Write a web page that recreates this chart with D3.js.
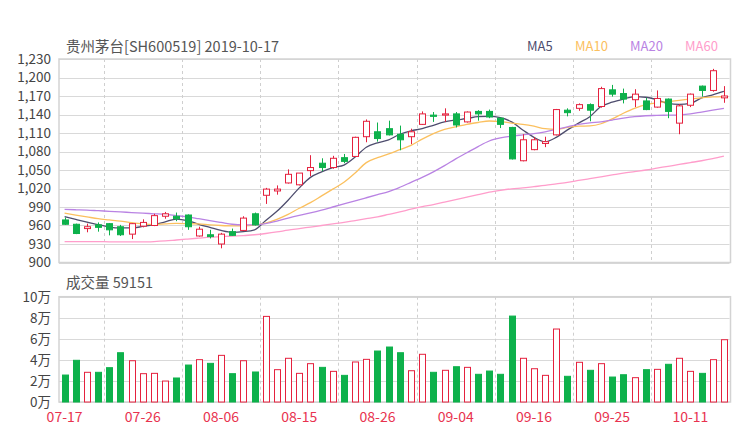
<!DOCTYPE html>
<html><head><meta charset="utf-8">
<script src="https://cdn.jsdelivr.net/npm/d3@7/dist/d3.min.js"></script>
<style>html,body{margin:0;padding:0;background:#fff;}svg{display:block;font-family:"Noto Sans CJK SC","Open Sans",sans-serif;}</style>
</head><body><svg id="c" width="740" height="440"></svg>
<script>
const dates = ["07-17","07-18","07-19","07-22","07-23","07-24","07-25","07-26","07-29","07-30","07-31","08-01","08-02","08-05","08-06","08-07","08-08","08-09","08-12","08-13","08-14","08-15","08-16","08-19","08-20","08-21","08-22","08-23","08-26","08-27","08-28","08-29","08-30","09-02","09-03","09-04","09-05","09-06","09-09","09-10","09-11","09-12","09-16","09-17","09-18","09-19","09-20","09-23","09-24","09-25","09-26","09-27","09-30","10-08","10-09","10-10","10-11","10-14","10-15","10-16"];
const open  = [969,962,955,961,963,958,946,959,960,975,975,977,943,945,930,950,952,979,1009,1016,1029,1026,1049,1061,1054,1070,1072,1104,1112,1117,1108,1104,1124,1139,1139,1141,1128,1145,1145,1134,1119,1065,1083,1093,1107,1147,1150,1156,1153,1180,1174,1164,1162,1152,1165,1126,1155,1186,1179,1167];
const high  = [973,963,963,965,964,961,964,970,979,982,981,978,958,953,948,955,975,981,1021,1025,1051,1045,1074,1069,1073,1076,1104,1132,1127,1130,1122,1117,1145,1144,1150,1144,1145,1147,1148,1135,1120,1108,1103,1104,1149,1150,1158,1158,1185,1188,1182,1181,1167,1179,1166,1157,1174,1187,1214,1186];
const low   = [961,946,949,950,944,943,938,957,959,971,967,953,942,939,923,943,951,960,995,1010,1028,1025,1040,1048,1052,1061,1071,1095,1096,1106,1082,1092,1123,1128,1128,1119,1127,1130,1134,1118,1067,1064,1082,1087,1106,1137,1146,1129,1151,1169,1158,1152,1147,1151,1134,1108,1152,1169,1177,1159];
const close = [962,947,958,957,953,945,963,965,976,979,971,958,954,942,946,944,972,961,1019,1019,1043,1045,1054,1054,1069,1064,1103,1129,1101,1107,1099,1112,1141,1137,1141,1123,1144,1141,1136,1124,1068,1099,1099,1096,1148,1143,1156,1147,1182,1173,1165,1173,1148,1166,1145,1154,1173,1179,1211,1170];
const volume = [25600,39600,28200,28200,32600,46800,39200,26900,27200,19900,22800,35100,40200,36700,44300,26900,39200,28500,81300,30700,41500,27200,36400,32900,29100,25300,38000,40500,48400,52200,46800,29700,45300,28200,30100,33500,32900,26300,29400,26300,81600,41500,31600,25300,69300,24400,37700,30100,36400,23700,25900,23100,30700,31000,35800,41500,29100,27200,40200,59151];
const ma5  = [974.5,970,965.5,961.5,957.5,956,956,958.5,961.5,966,970.5,968,962,957,952,949,950,953,968,983,1001,1021,1038,1047,1054,1058,1071,1087,1094,1099,1108,1113.5,1117,1122.5,1128,1131,1133.5,1136.5,1137,1135,1128,1115,1103,1096,1103,1115,1126,1136.5,1153,1160,1165,1169,1168,1164,1158,1156.5,1158,1167,1172,1177.5];
const ma10 = [980,977,974,971,969,967,964.5,962.5,961.5,962.5,963.5,963,962.5,961,960,959.5,959.5,960.5,964,970,978,988,997,1008,1019,1030,1045,1062,1070,1076,1083,1090,1100,1109,1116,1120,1124,1127,1129.5,1128.5,1126,1124,1121,1117,1116,1119,1121,1121.5,1125,1133,1142,1150,1156,1159,1161,1163,1165,1167,1168.5,1169];
const ma20 = [986,985.5,985,984,983,982,981,980,979,978,976,974,971,968,965,962,961,961,963,967,972,976.5,980.5,985,990,995,1000,1005,1010,1015,1022,1030,1038,1047,1057,1068,1078,1088,1097,1102,1105,1107,1109,1112,1116,1120,1124,1126.5,1128,1131,1134,1136.5,1138,1138.5,1139,1139.5,1141,1144,1147,1150];
const ma60 = [934,934,934,934,933.5,933.5,933.5,933.5,934,935,936.5,938,939.5,941,942,943,943.5,945,947,949.5,952.5,955,957.5,960,962.5,965,968,971,974,978,982,986.5,990.5,994,998,1002,1006,1010,1014,1017,1019.5,1021,1023,1025,1027.5,1030,1033,1036,1039,1042,1045,1047.5,1050,1053,1056,1059,1062,1065,1068.5,1072.5];
const priceTicks = [900,930,960,990,1020,1050,1080,1110,1140,1170,1200,1230];
const volTicks = [0,20000,40000,60000,80000,100000];
const volTickLabels = ["0万","2万","4万","6万","8万","10万"];
const labelDates = ["07-17","07-26","08-06","08-15","08-26","09-04","09-16","09-25","10-11"];
const maNames = ["MA5","MA10","MA20","MA60"];
const maSeries = [ma5, ma10, ma20, ma60];
const title = "贵州茅台[SH600519] 2019-10-17";
const volTitle = "成交量 59151";

const RED = "#e5213e", GREEN = "#0db14b";
const maColors = ["#4e4d6e","#fbc05f","#b983e3","#ff9dcb"];
const L = 59, R = 729.5;
const svg = d3.select("#c");
const idx = d3.range(dates.length);
const x = d3.scaleBand().domain(idx).range([L, R]).padding(0);
const bw = x.bandwidth();
const cx = i => x(i) + bw / 2;
const y = d3.scaleLinear().domain([900, 1230]).range([262.5, 59]);
const yv = d3.scaleLinear().domain([0, 100000]).range([402, 296.7]);

function panel(scale, ticks, fmt) {
  const [b, t] = scale.range();
  const g = svg.append("g");
  g.selectAll("line.h").data(ticks).join("line")
    .attr("x1", L).attr("x2", R).attr("y1", d => Math.round(scale(d)) + 0.5).attr("y2", d => Math.round(scale(d)) + 0.5)
    .attr("stroke", "#d9d9d9").attr("stroke-width", 1);
  const vIdx = idx.filter(i => i % 7 === 4);
  g.selectAll("line.v").data(vIdx).join("line")
    .attr("x1", d => Math.round(x(d)) + 0.5).attr("x2", d => Math.round(x(d)) + 0.5)
    .attr("y1", t).attr("y2", b).attr("stroke", "#cfcfcf").attr("stroke-dasharray", "3,3");
  g.append("rect").attr("x", L).attr("y", t).attr("width", R - L + 1).attr("height", b - t)
    .attr("fill", "none").attr("stroke", "#d3d3d3").attr("stroke-width", 1.5);
  const ax = d3.axisLeft(scale).tickValues(ticks).tickSize(0).tickPadding(8).tickFormat(fmt);
  const ag = svg.append("g").attr("transform", `translate(${L},0)`).call(ax);
  ag.select(".domain").remove();
  ag.selectAll("text").attr("fill", "#444").style("font-size", "13.5px")
    .style("font-family", '"Noto Sans CJK SC","Open Sans",sans-serif');
}
panel(y, priceTicks, d3.format(","));
panel(yv, volTicks, (d, i) => volTickLabels[i]);

maSeries.forEach((s, k) => {
  const line = d3.line().x((d, i) => cx(i)).y(d => y(d)).curve(d3.curveMonotoneX);
  svg.append("path").datum(s).attr("d", line).attr("fill", "none")
    .attr("stroke", maColors[k]).attr("stroke-width", 1.3);
});

const cw = 6;
const cg = svg.append("g");
idx.forEach(i => {
  const up = close[i] >= open[i];
  const col = up ? RED : GREEN;
  const xc = Math.round(cx(i)) + 0.5;
  cg.append("line").attr("x1", xc).attr("x2", xc).attr("y1", y(high[i])).attr("y2", y(low[i]))
    .attr("stroke", col).attr("stroke-width", 1);
  const top = y(Math.max(open[i], close[i])), bot = y(Math.min(open[i], close[i]));
  cg.append("rect").attr("x", xc - cw / 2).attr("y", top).attr("width", cw).attr("height", Math.max(1, bot - top))
    .attr("fill", up ? "#fff" : col).attr("stroke", col).attr("stroke-width", 1);
});

const vg = svg.append("g");
idx.forEach(i => {
  const up = close[i] >= open[i];
  const col = up ? RED : GREEN;
  const xc = Math.round(cx(i)) + 0.5;
  vg.append("rect").attr("x", xc - cw / 2).attr("y", yv(volume[i])).attr("width", cw)
    .attr("height", yv(0) - yv(volume[i]))
    .attr("fill", up ? "#fff" : col).attr("stroke", col).attr("stroke-width", 1);
});

const xa = d3.axisBottom(x).tickValues(idx.filter(i => labelDates.includes(dates[i])))
  .tickFormat(i => dates[i]).tickSize(0).tickPadding(9);
const xg = svg.append("g").attr("transform", "translate(0,403)").call(xa);
xg.select(".domain").remove();
xg.selectAll("text").attr("fill", "#e8334f").style("font-size", "14px")
  .style("font-family", '"Noto Sans CJK SC","Open Sans",sans-serif');

svg.append("text").attr("x", 66).attr("y", 52).attr("fill", "#555").style("font-size", "14.5px").text(title);
svg.append("text").attr("x", 66).attr("y", 288).attr("fill", "#555").style("font-size", "14.5px").text(volTitle);

const legX = [527, 575, 630, 685];
maNames.forEach((n, k) => {
  svg.append("text").attr("x", legX[k]).attr("y", 51).attr("fill", maColors[k]).style("font-size", "13px").text(n);
});
</script></body></html>
